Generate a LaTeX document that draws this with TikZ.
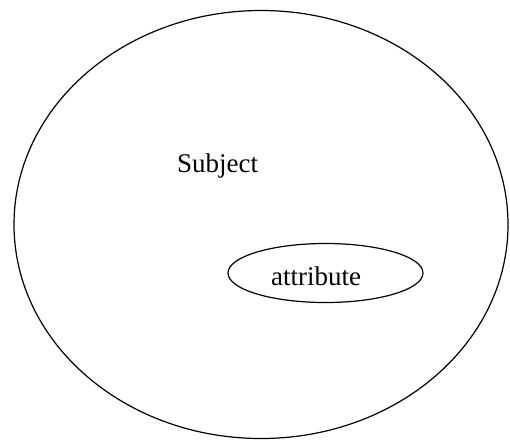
\documentclass[tikz,border=0pt]{standalone}
\usepackage{fontspec}
\setmainfont{Liberation Serif}
\usetikzlibrary{shapes.geometric}
\begin{document}
\begin{tikzpicture}[x=1pt,y=-1pt,
  oval/.style={draw=black,line width=1.2pt,ellipse,inner sep=0pt},
  lbl/.style={font=\fontsize{27}{30}\selectfont,anchor=base,inner sep=0pt}]
\useasboundingbox (0,0) rectangle (510,440);
\node[oval,minimum width=494pt,minimum height=428pt] (subj) at (261,224.5) {};
\node[oval,minimum width=195pt,minimum height=59pt] (attr) at (325.5,273) {};
\node[lbl] (subjlbl) at (217.5,172) {Subject};
\node[lbl] (attrlbl) at (316,285) {attribute};
\end{tikzpicture}
\end{document}
